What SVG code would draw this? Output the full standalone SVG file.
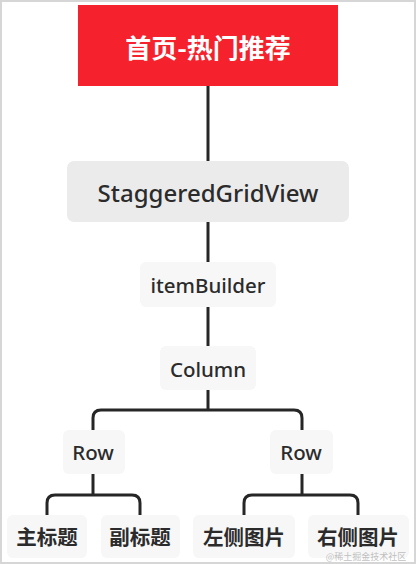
<svg xmlns="http://www.w3.org/2000/svg" width="416" height="564" viewBox="0 0 416 564">
<style>
  .t { font-family: "Noto Sans", "Noto Sans CJK SC", sans-serif; fill: #2b2b2b; text-anchor: middle; dominant-baseline: central; font-weight: 500; }
  .cjk { font-family: "Noto Sans CJK SC", sans-serif; font-weight: 600; }
  .box { fill: #f7f7f7; }
  .conn { fill: none; stroke: #262626; stroke-width: 3; stroke-linecap: butt; stroke-linejoin: round; }
</style>
<rect x="0" y="0" width="416" height="564" fill="#ffffff"/>
<rect x="1" y="1" width="414" height="562" fill="none" stroke="#d6d6d6" stroke-width="2"/>
<g id="connectors">
  <path class="conn" d="M208 86 V161"/>
  <path class="conn" d="M208 222 V262"/>
  <path class="conn" d="M208 307 V346"/>
  <path class="conn" d="M208 390 V410"/>
  <path class="conn" d="M93 430 V418 Q93 410 101 410 H294 Q302 410 302 418 V430"/>
  <path class="conn" d="M93 474 V495"/>
  <path class="conn" d="M47 515 V503 Q47 495 55 495 H132 Q140 495 140 503 V515"/>
  <path class="conn" d="M302 474 V495"/>
  <path class="conn" d="M244 515 V503 Q244 495 252 495 H350 Q358 495 358 503 V515"/>
</g>
<g id="root">
  <rect x="78" y="5" width="260" height="81" fill="#f5222d"/>
  <text class="t cjk" x="208" y="46" font-size="26" style="fill:#ffffff;font-weight:700">首页-热门推荐</text>
</g>
<g id="staggered">
  <rect x="67" y="161" width="282" height="61" rx="7" fill="#ebebeb"/>
  <text class="t" x="208" y="192" font-size="24">StaggeredGridView</text>
</g>
<g id="itemBuilder">
  <rect class="box" x="140" y="262" width="136" height="45" rx="6"/>
  <text class="t" x="208" y="285" font-size="20.5">itemBuilder</text>
</g>
<g id="column">
  <rect class="box" x="160" y="346" width="96" height="44" rx="6"/>
  <text class="t" x="208" y="369" font-size="20.5">Column</text>
</g>
<g id="row-left">
  <rect class="box" x="63" y="430" width="62" height="44" rx="6"/>
  <text class="t" x="93" y="452" font-size="20.5">Row</text>
</g>
<g id="row-right">
  <rect class="box" x="270" y="430" width="63" height="44" rx="6"/>
  <text class="t" x="301" y="452" font-size="20.5">Row</text>
</g>
<g id="leaf-main-title">
  <rect class="box" x="7" y="515" width="80" height="43" rx="6"/>
  <text class="t cjk" x="47" y="536" font-size="20.5">主标题</text>
</g>
<g id="leaf-sub-title">
  <rect class="box" x="101" y="515" width="79" height="43" rx="6"/>
  <text class="t cjk" x="140" y="536" font-size="20.5">副标题</text>
</g>
<g id="leaf-left-image">
  <rect class="box" x="193" y="515" width="102" height="43" rx="6"/>
  <text class="t cjk" x="244" y="536" font-size="20.5">左侧图片</text>
</g>
<g id="leaf-right-image">
  <rect class="box" x="308" y="515" width="101" height="43" rx="6"/>
  <text class="t cjk" x="358" y="536" font-size="20.5">右侧图片</text>
</g>
<text x="366" y="556" font-family="Noto Sans CJK SC, sans-serif" font-size="9" fill="#b0b0b0" fill-opacity="0.8" text-anchor="middle" dominant-baseline="central">@稀土掘金技术社区</text>
</svg>
